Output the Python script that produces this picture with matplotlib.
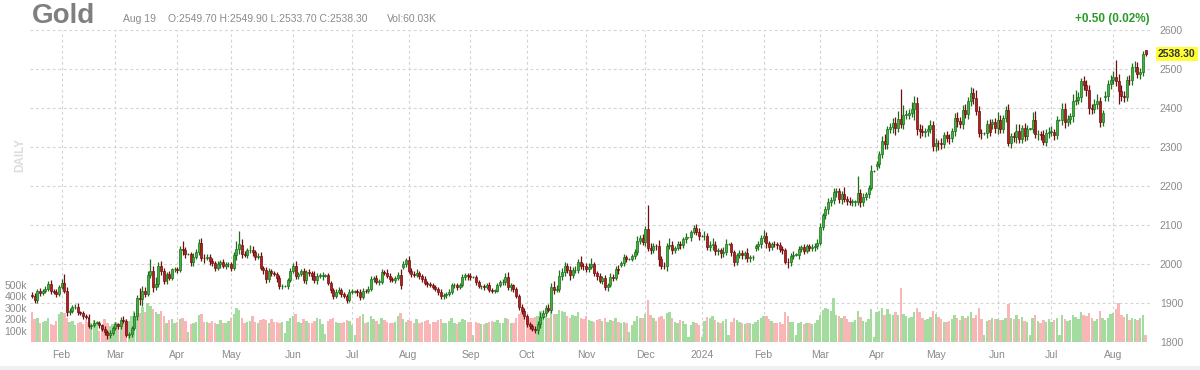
import numpy as np
import pandas as pd
import matplotlib
matplotlib.use('Agg')
import matplotlib.pyplot as plt
from matplotlib.patches import Rectangle
from matplotlib.transforms import blended_transform_factory

plt.rcParams['font.family'] = ['Liberation Sans', 'DejaVu Sans']

# ============================================================
# DATA (daily gold futures)
# ============================================================
dates = pd.bdate_range('2023-01-17', '2024-08-19')

closes = [
    1918, 1907, 1932, 1926, 1931, 1937, 1948, 1930, 1929, 1923, 1942,  # Jan 23
    1951, 1932, 1876, 1880, 1890, 1891, 1876, 1874, 1866, 1865, 1841, 1843, 1850, 1850, 1843, 1834, 1825, 1817, 1824, 1836,  # Feb
    1845, 1841, 1856, 1854, 1819, 1821, 1836, 1867, 1913, 1910, 1932, 1923, 1973, 1982, 1941, 1949, 1995, 1983, 1956, 1974, 1965, 1986, 1987,  # Mar
    1985, 2038, 2036, 2025, 2025, 2004, 2019, 2030, 2055, 2016, 2015, 2019, 2007, 2003, 1990, 1999, 2005, 1996, 1999, 1999,  # Apr
    1990, 2023, 2038, 2050, 2025, 2024, 2035, 2037, 2030, 2019, 2021, 1990, 1984, 1962, 1981, 1977, 1975, 1963, 1943, 1944, 1944, 1959, 1982,  # May
    1995, 1969, 1974, 1981, 1958, 1979, 1977, 1969, 1958, 1970, 1970, 1970, 1971, 1951, 1933, 1919, 1929, 1933, 1923, 1918, 1908, 1929,  # Jun
    1929, 1930, 1927, 1915, 1932, 1931, 1937, 1961, 1963, 1955, 1955, 1979, 1978, 1969, 1962, 1958, 1964, 1971, 1945, 1999, 2009,  # Jul
    1982, 1975, 1973, 1977, 1970, 1961, 1952, 1948, 1946, 1940, 1936, 1929, 1917, 1920, 1923, 1929, 1946, 1946, 1941, 1947, 1966, 1972, 1968,  # Aug
    1966, 1966, 1953, 1943, 1943, 1942, 1947, 1933, 1932, 1932, 1946, 1953, 1953, 1967, 1940, 1945, 1935, 1919, 1891, 1880, 1866,  # Sep
    1847, 1841, 1834, 1831, 1845, 1864, 1875, 1887, 1883, 1942, 1934, 1937, 1968, 1980, 1994, 1984, 1971, 1985, 1985, 2006, 1996, 1994,  # Oct
    1987, 1993, 1999, 1978, 1970, 1957, 1964, 1940, 1946, 1967, 1965, 1988, 1984, 2002, 2018, 2013, 2013, 2020, 2031, 2060, 2067, 2057,  # Nov
    2089, 2042, 2036, 2047, 2046, 2014, 1996, 1995, 2047, 2049, 2036, 2041, 2052, 2048, 2063, 2068, 2068, 2083, 2093, 2083, 2072,  # Dec
    2072, 2073, 2043, 2050, 2050, 2033, 2035, 2028, 2032, 2051, 2051, 2030, 2006, 2022, 2029, 2022, 2027, 2015, 2017, 2018, 2045, 2051, 2067,  # Jan 24
    2071, 2053, 2043, 2052, 2051, 2048, 2039, 2035, 2006, 2004, 2021, 2024, 2024, 2039, 2043, 2034, 2046, 2042, 2044, 2046, 2054,  # Feb
    2096, 2126, 2141, 2158, 2165, 2185, 2188, 2167, 2180, 2166, 2162, 2160, 2160, 2160, 2181, 2158, 2172, 2179, 2195, 2238, 2238,  # Mar
    2257, 2281, 2315, 2308, 2345, 2351, 2362, 2348, 2372, 2360, 2383, 2383, 2388, 2398, 2413, 2346, 2342, 2338, 2342, 2347, 2357, 2303,  # Apr
    2311, 2309, 2308, 2331, 2324, 2322, 2340, 2375, 2366, 2358, 2395, 2385, 2418, 2438, 2425, 2393, 2337, 2335, 2335, 2358, 2339, 2363, 2348,  # May
    2369, 2347, 2375, 2394, 2311, 2327, 2326, 2342, 2321, 2349, 2329, 2347, 2347, 2370, 2333, 2334, 2331, 2314, 2337, 2339,  # Jun
    2339, 2331, 2369, 2369, 2397, 2363, 2372, 2379, 2418, 2421, 2429, 2468, 2459, 2446, 2399, 2397, 2410, 2419, 2365, 2386, 2431, 2462, 2473,  # Jul
    2480, 2470, 2444, 2432, 2428, 2473, 2472, 2505, 2505, 2487, 2493, 2537.8, 2538.3,  # Aug
]

# extension of the high above the body / of the low below the body ($)
wick_up = [
    6, 8, 5, 7, 4, 6, 9, 12, 5, 6, 4,
    10, 24, 8, 6, 5, 7, 9, 4, 6, 5, 8, 4, 6, 3, 5, 4, 6, 5, 7, 5,
    6, 5, 8, 10, 6, 4, 5, 9, 8, 25, 12, 10, 8, 32, 14, 18, 10, 12, 8, 6, 7, 5, 6,
    5, 8, 20, 7, 3, 6, 9, 8, 8, 12, 10, 7, 6, 9, 5, 8, 6, 9, 5, 7,
    6, 9, 20, 35, 15, 9, 6, 12, 8, 7, 6, 10, 6, 8, 9, 7, 6, 5, 8, 6, 3, 6, 7,
    8, 13, 6, 7, 10, 5, 8, 6, 12, 8, 6, 9, 3, 7, 6, 5, 6, 8, 5, 6, 5, 7,
    6, 3, 5, 9, 6, 5, 6, 8, 5, 8, 6, 9, 6, 10, 8, 5, 6, 8, 15, 8, 7,
    12, 8, 6, 11, 6, 5, 7, 4, 5, 6, 5, 4, 8, 6, 5, 7, 5, 6, 5, 4, 8, 5, 6,
    10, 3, 6, 5, 4, 6, 5, 7, 6, 5, 6, 5, 8, 9, 12, 6, 5, 7, 5, 6, 8,
    6, 5, 4, 6, 8, 12, 6, 7, 10, 9, 14, 8, 16, 10, 12, 8, 10, 7, 9, 8, 14, 6,
    8, 9, 16, 6, 5, 7, 6, 8, 5, 10, 7, 6, 9, 5, 8, 6, 3, 5, 7, 12, 8, 10,
    8, 63, 12, 6, 5, 15, 6, 8, 6, 18, 10, 5, 6, 8, 7, 12, 2, 5, 8, 10, 9,
    2, 12, 6, 8, 16, 8, 6, 5, 12, 12, 2, 6, 5, 6, 8, 6, 7, 15, 5, 6, 6, 9, 7,
    15, 10, 6, 5, 6, 5, 8, 6, 6, 9, 8, 10, 3, 6, 7, 9, 5, 6, 7, 8, 9,
    8, 6, 9, 12, 8, 10, 8, 6, 7, 18, 8, 10, 6, 5, 44, 12, 10, 6, 8, 16, 3,
    8, 10, 12, 18, 10, 10, 12, 15, 20, 76, 25, 12, 10, 18, 18, 15, 12, 15, 8, 10, 12, 10,
    12, 8, 15, 8, 9, 10, 8, 12, 14, 10, 12, 14, 10, 16, 14, 20, 12, 10, 3, 12, 14, 10, 12,
    20, 14, 8, 12, 15, 10, 12, 16, 18, 8, 12, 10, 3, 20, 22, 10, 8, 12, 10, 12,
    14, 8, 10, 3, 15, 16, 10, 8, 18, 25, 12, 10, 15, 12, 12, 10, 12, 18, 10, 8, 12, 10, 12,
    15, 42, 18, 15, 12, 10, 12, 10, 15, 12, 10, 8, 0.2,
]
wick_dn = [
    5, 7, 6, 8, 5, 6, 5, 7, 6, 8, 6,
    7, 6, 10, 8, 6, 5, 7, 6, 8, 5, 6, 7, 5, 3, 8, 7, 6, 9, 6, 5,
    6, 7, 8, 5, 6, 8, 7, 6, 10, 14, 18, 8, 6, 10, 12, 8, 9, 10, 7, 8, 6, 7, 6,
    8, 6, 12, 10, 3, 8, 10, 6, 6, 8, 12, 6, 10, 7, 9, 6, 8, 7, 9, 6,
    8, 6, 12, 12, 10, 7, 8, 6, 10, 8, 7, 6, 9, 10, 8, 7, 6, 9, 8, 6, 3, 7, 6,
    6, 8, 7, 6, 6, 8, 7, 9, 6, 8, 7, 10, 3, 6, 7, 8, 6, 5, 7, 6, 8, 6,
    5, 3, 8, 7, 6, 5, 6, 5, 7, 6, 8, 5, 7, 6, 9, 5, 7, 6, 8, 6, 7,
    6, 8, 7, 6, 9, 6, 5, 7, 6, 5, 6, 8, 6, 7, 8, 5, 6, 7, 8, 6, 6, 7, 8,
    6, 3, 7, 5, 6, 8, 6, 5, 7, 6, 5, 6, 8, 7, 6, 8, 6, 6, 8, 7, 6,
    8, 7, 6, 9, 10, 8, 6, 9, 7, 8, 10, 6, 8, 9, 10, 8, 12, 6, 9, 7, 8, 9,
    8, 7, 6, 9, 10, 6, 8, 7, 9, 6, 8, 7, 9, 6, 7, 8, 3, 6, 8, 7, 8, 9,
    10, 8, 10, 7, 9, 20, 10, 8, 12, 9, 10, 8, 6, 9, 7, 8, 2, 8, 7, 9, 10,
    2, 10, 8, 9, 15, 9, 10, 12, 10, 8, 2, 9, 10, 8, 7, 9, 8, 10, 9, 8, 7, 8, 9,
    10, 12, 9, 8, 7, 9, 8, 10, 6, 14, 9, 8, 3, 10, 9, 8, 7, 8, 9, 10, 8,
    6, 8, 10, 12, 10, 12, 14, 10, 12, 8, 10, 9, 12, 10, 8, 12, 10, 8, 10, 6, 3,
    10, 12, 8, 14, 12, 10, 14, 16, 10, 12, 14, 12, 10, 12, 30, 16, 18, 10, 12, 14, 10, 12,
    12, 16, 14, 10, 12, 14, 10, 12, 14, 10, 12, 10, 14, 12, 16, 10, 12, 14, 3, 12, 10, 14, 12,
    14, 12, 10, 12, 8, 14, 12, 16, 10, 12, 14, 10, 3, 12, 10, 14, 12, 10, 12, 14,
    12, 14, 10, 3, 12, 14, 10, 12, 14, 10, 12, 14, 12, 16, 14, 12, 10, 12, 14, 12, 10, 12, 14,
    12, 14, 34, 14, 12, 10, 12, 14, 12, 10, 12, 10, 4.6,
]

# volume in thousands of contracts
volume_k = [
    265, 205, 210, 170, 180, 185, 215, 160, 150, 185, 245,
    265, 255, 215, 175, 185, 150, 170, 175, 160, 190, 180, 170, 190, 170, 95, 150, 205, 165, 140, 160,
    175, 165, 150, 170, 200, 185, 225, 270, 330, 255, 305, 260, 340, 315, 290, 265, 250, 275, 225, 165, 190, 200, 170,
    180, 205, 215, 185, 90, 160, 165, 175, 240, 250, 175, 180, 165, 185, 170, 160, 195, 165, 170, 185,
    210, 245, 300, 285, 215, 170, 180, 185, 225, 175, 165, 195, 205, 190, 170, 200, 175, 180, 165, 175, 80, 185, 215,
    230, 245, 175, 170, 200, 185, 165, 170, 185, 215, 200, 160, 70, 185, 200, 215, 175, 165, 170, 180, 195, 185,
    150, 60, 210, 230, 250, 170, 175, 225, 200, 185, 160, 215, 190, 175, 165, 170, 180, 225, 255, 205, 175,
    190, 185, 165, 205, 170, 180, 185, 195, 160, 175, 180, 195, 200, 165, 170, 185, 215, 170, 160, 175, 200, 195, 180,
    180, 60, 175, 165, 160, 155, 170, 175, 185, 180, 195, 170, 165, 215, 200, 165, 170, 215, 245, 260, 235,
    225, 215, 210, 220, 230, 270, 240, 225, 210, 285, 250, 245, 285, 275, 265, 230, 215, 235, 230, 260, 215, 205,
    230, 190, 185, 175, 195, 200, 185, 215, 175, 195, 185, 210, 175, 170, 180, 165, 90, 150, 185, 230, 215, 210,
    250, 370, 240, 210, 185, 220, 230, 205, 255, 265, 210, 175, 170, 190, 185, 160, 40, 150, 175, 165, 150,
    40, 185, 220, 210, 225, 190, 175, 170, 185, 200, 60, 180, 215, 190, 175, 165, 160, 170, 165, 155, 175, 190, 215,
    230, 225, 200, 185, 170, 165, 175, 160, 260, 225, 180, 175, 60, 170, 175, 160, 165, 170, 160, 165, 190,
    240, 280, 300, 290, 275, 385, 240, 230, 215, 225, 200, 175, 180, 195, 275, 220, 185, 180, 200, 290, 40,
    260, 270, 300, 240, 290, 250, 235, 260, 240, 470, 250, 225, 215, 220, 265, 300, 260, 215, 195, 205, 220, 270,
    250, 220, 200, 180, 175, 185, 200, 240, 210, 195, 230, 210, 230, 265, 215, 240, 300, 200, 60, 185, 190, 210, 200,
    200, 190, 195, 215, 330, 210, 200, 235, 200, 220, 185, 180, 60, 215, 235, 185, 170, 190, 175, 200,
    180, 190, 210, 60, 240, 200, 185, 195, 240, 220, 200, 260, 235, 230, 255, 210, 185, 205, 270, 215, 195, 215, 245,
    255, 290, 340, 240, 220, 245, 190, 210, 200, 190, 215, 235, 60,
]

first_open = 1921
# opens that do not follow the previous close (contract rolls, last session)
gap_opens = {
    '2023-07-28': 1992, '2023-11-20': 1998, '2024-01-29': 2040,
    '2024-04-01': 2252, '2024-05-30': 2360, '2024-07-29': 2428,
    '2024-08-19': 2549.70,
}

title = 'Gold'
last_day = 'Aug 19'
last_ohlc = (2549.70, 2549.90, 2533.70, 2538.30)
last_vol = '60.03K'
change_txt = '+0.50 (0.02%)'

price_ticks = [1800, 1900, 2000, 2100, 2200, 2300, 2400, 2500, 2600]
vol_ticks = [100, 200, 300, 400, 500]

n = len(dates)
assert len(closes) == n and len(wick_up) == n and len(wick_dn) == n and len(volume_k) == n, \
    (n, len(closes), len(wick_up), len(wick_dn), len(volume_k))

# ============================================================
# OHLC
# ============================================================
c = np.array(closes, dtype=float)
o = np.concatenate([[first_open], c[:-1]])
for d, v in gap_opens.items():
    o[dates.get_loc(pd.Timestamp(d))] = v
top = np.maximum(o, c)
bot = np.minimum(o, c)
h = top + np.array(wick_up)
l = bot - np.array(wick_dn)
up = c >= o
x = np.arange(n)

# ============================================================
# PLOT
# ============================================================
W, H = 1200, 370
fig = plt.figure(figsize=(W / 100, H / 100), dpi=100)
fig.patch.set_facecolor('white')
rect = [30 / W, 28 / H, 1120 / W, 312 / H]

ax_bg = fig.add_axes(rect)
axv = fig.add_axes(rect, sharex=ax_bg)
ax = fig.add_axes(rect, sharex=ax_bg, sharey=ax_bg)

grid_kw = dict(color='#d4d4d4', lw=0.8, ls=(0, (2.5, 2.5)))
gray = '#8a8a8a'

# background: grid + price / month labels
month_idx = [i for i in range(1, n) if dates[i].month != dates[i - 1].month]
month_lab = [str(dates[i].year) if dates[i].month == 1 else dates[i].strftime('%b') for i in month_idx]
ax_bg.set_xlim(-0.75, n + 0.65)
ax_bg.set_ylim(1800, 2600)
ax_bg.set_xticks(month_idx)
ax_bg.set_xticklabels(month_lab)
ax_bg.set_yticks(price_ticks)
ax_bg.yaxis.tick_right()
ax_bg.tick_params(length=0, labelsize=7.5, labelcolor=gray)
ax_bg.tick_params(axis='x', pad=6)
ax_bg.tick_params(axis='y', pad=7)
ax_bg.grid(True, **grid_kw)
for s in ax_bg.spines.values():
    s.set_visible(False)

# volume
vcol = np.where(up, '#a4dc9f', '#f8b6b6')
axv.bar(x, volume_k, width=0.9, color=vcol, linewidth=0)
axv.set_ylim(0, 2740)
axv.set_yticks(vol_ticks)
axv.set_yticklabels([f'{v}k' for v in vol_ticks])
axv.tick_params(axis='y', length=0, labelsize=7.5, labelcolor=gray, pad=2)
axv.tick_params(axis='x', length=0, labelbottom=False)
axv.patch.set_visible(False)
for s in axv.spines.values():
    s.set_visible(False)

# candles
ecol = np.where(up, '#1e6e1e', '#6e1010')
fcol = np.where(up, '#3cb43c', '#b41f1f')
ax.vlines(x, l, h, colors=ecol, lw=0.9, zorder=2)
ax.bar(x, np.maximum(top - bot, 0.8), bottom=bot, width=0.74,
       color=fcol, edgecolor=ecol, linewidth=0.5, zorder=3)
ax.patch.set_visible(False)
ax.tick_params(length=0, labelbottom=False, labelleft=False)
for s in ax.spines.values():
    s.set_visible(False)

# last price tag
tr = blended_transform_factory(ax.transAxes, ax.transData)
ax.text(1 + 8 / 1120, last_ohlc[3], f'{last_ohlc[3]:.2f}', transform=tr,
        ha='left', va='center', fontsize=7.5, fontweight='bold', color='#333333',
        bbox=dict(boxstyle='square,pad=0.18', facecolor='#ffff33', edgecolor='none'))

# header
def ftext(px, py, s, **kw):
    fig.text(px / W, 1 - py / H, s, va='baseline', **kw)

ftext(32, 23, title, fontsize=20, fontweight='bold', color='#7f7f7f')
ftext(123, 22, last_day, fontsize=7.5, color=gray)
O, Hh, L, C = last_ohlc
ftext(168, 22, f'O:{O:.2f} H:{Hh:.2f} L:{L:.2f} C:{C:.2f}', fontsize=7.5, color=gray)
ftext(387, 22, f'Vol:{last_vol}', fontsize=7.5, color=gray)
ftext(1150, 22, change_txt, fontsize=8.5, fontweight='bold', color='#2a9a2a', ha='right')
fig.text(20 / W, 1 - 155 / H, 'DAILY', rotation=90, fontsize=8.5, fontweight='bold',
         color='#dddddd', ha='center', va='center')

fig.patches.append(Rectangle((0, 0), 1, 4 / H, transform=fig.transFigure,
                             facecolor='#f0f0f0', edgecolor='none'))

fig.savefig('out.png', dpi=100)
